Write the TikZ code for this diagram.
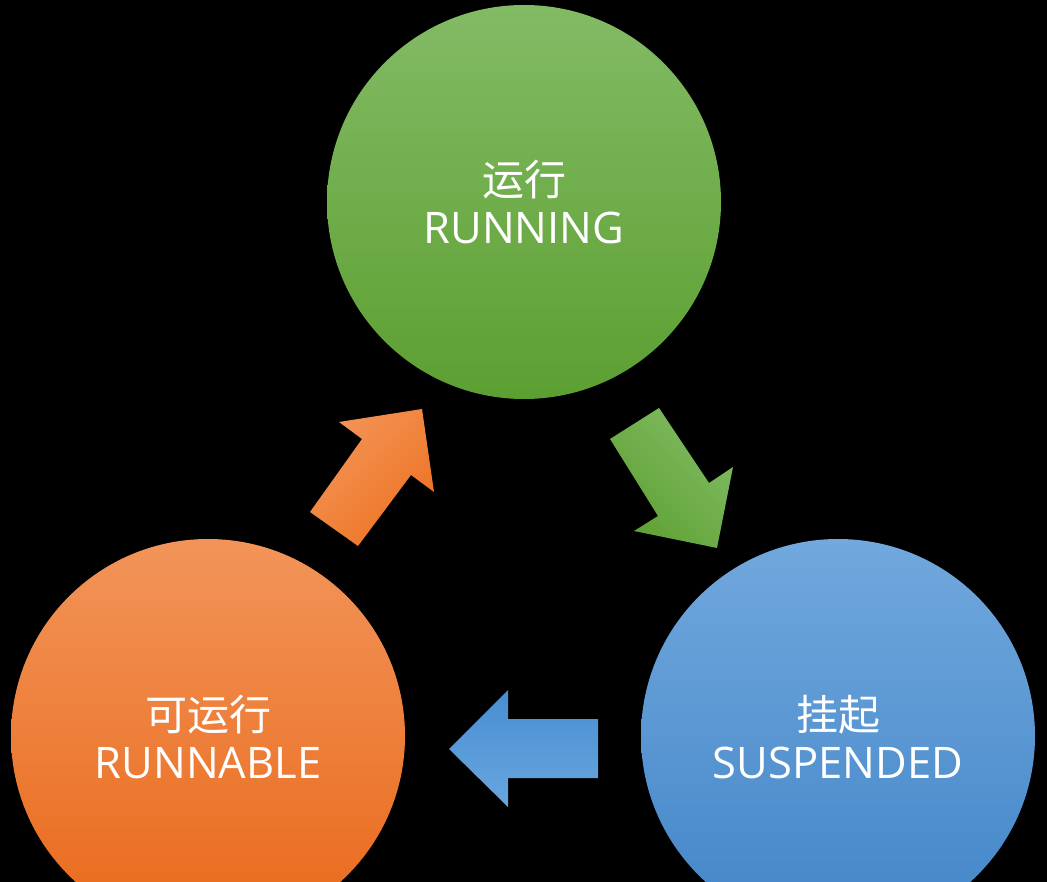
\documentclass[tikz,border=0pt]{standalone}
\usepackage{fontspec}
\setmainfont{Open Sans}
\newfontfamily\cjk{Noto Sans CJK SC}
\definecolor{gtop}{HTML}{83BB65}
\definecolor{gbot}{HTML}{5C9F31}
\definecolor{otop}{HTML}{F29459}
\definecolor{obot}{HTML}{E9691A}
\definecolor{btop}{HTML}{71A8DD}
\definecolor{bbot}{HTML}{4285C8}
\definecolor{oal}{HTML}{F39457}
\definecolor{oad}{HTML}{ED7322}
\definecolor{gal}{HTML}{80BB62}
\definecolor{gad}{HTML}{5FA134}
\definecolor{bad}{HTML}{498DD2}
\definecolor{bal}{HTML}{68A6DF}
\tikzset{
  state/.style={circle, minimum size=394pt, inner sep=0pt, draw=none},
  zhlabel/.style={text=white, anchor=base, inner sep=0pt, font=\cjk\fontsize{42}{46}\selectfont},
  enlabel/.style={text=white, anchor=base, inner sep=0pt, font=\fontsize{43.5}{48}\selectfont},
}
\begin{document}
\begin{tikzpicture}[x=1pt,y=1pt]
\fill[black] (0,0) rectangle (1047,-882);
\useasboundingbox (0,0) rectangle (1047,-882);
\begin{scope}
\clip (0,0) rectangle (1047,-882);
\node[state, top color=gtop, bottom color=gbot] (run) at (524,-202) {};
\node[state, top color=otop, bottom color=obot] (runnable) at (208,-736) {};
\node[state, top color=btop, bottom color=bbot] (susp) at (838,-736) {};
\end{scope}
% labels
\node[zhlabel] (runzh) at ([yshift=6pt]run.center) {运行};
\node[enlabel] (runen) at ([yshift=-42pt]run.center) {RUNNING};
\node[zhlabel] (rblzh) at ([yshift=6pt]runnable.center) {可运行};
\node[enlabel] (rblen) at ([yshift=-42pt]runnable.center) {RUNNABLE};
\node[zhlabel] (suszh) at ([yshift=6pt]susp.center) {挂起};
\node[enlabel] (susen) at ([yshift=-42pt]susp.center) {SUSPENDED};
% block arrows
\shade[top color=oal, bottom color=oad, shading angle=45]
  (358,-546) -- (310,-512) -- (362,-439) -- (339,-422) -- (422,-409)
  -- (434,-492) -- (411,-475) -- cycle;
\shade[top color=gal, bottom color=gad, shading angle=-45]
  (610,-439) -- (659,-408) -- (709,-483) -- (733,-467) -- (717,-548)
  -- (634,-531) -- (658,-516) -- cycle;
\shade[top color=bad, bottom color=bal]
  (598,-719) -- (508,-719) -- (508,-690) -- (449,-749) -- (508,-807)
  -- (508,-778) -- (598,-778) -- cycle;
\end{tikzpicture}
\end{document}
